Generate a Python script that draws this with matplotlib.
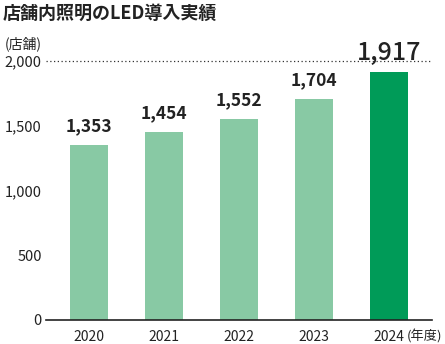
import matplotlib
matplotlib.use("Agg")
import matplotlib.pyplot as plt

plt.rcParams['font.family'] = ['Noto Sans CJK JP', 'DejaVu Sans']

years = ['2020', '2021', '2022', '2023', '2024']
stores = [1353, 1454, 1552, 1704, 1917]
colors = ['#88c9a4', '#88c9a4', '#88c9a4', '#88c9a4', '#009b58']
yticks = [0, 500, 1000, 1500, 2000]

fig = plt.figure(figsize=(4.45, 3.44), dpi=100)
ax = fig.add_axes([0.1034, 0.0698, 0.8674, 0.7529])

x = range(len(years))
ax.bar(x, stores, width=0.507, color=colors, zorder=2)

ax.set_xlim(-0.573, 4.573)
ax.set_ylim(0, 2000)
ax.set_yticks(yticks)
ax.set_yticklabels([f'{v:,}' for v in yticks], fontsize=10.5, color='#222222')
ax.set_xticks(list(x))
ax.set_xticklabels(years, fontsize=10, color='#222222')
ax.tick_params(axis='y', length=0, pad=3)
ax.tick_params(axis='x', length=0, pad=7)

for s in ['top', 'right', 'left']:
    ax.spines[s].set_visible(False)
ax.spines['bottom'].set_color('#222222')
ax.spines['bottom'].set_linewidth(1.2)

ax.axhline(2000, color='#333333', linestyle=(0, (1, 2)), linewidth=0.9, clip_on=False)

for i, v in enumerate(stores):
    if i == len(stores) - 1:
        ax.text(i, v + 45, f'{v:,}', ha='center', va='bottom', fontsize=18,
                color='#222222', fontweight='medium')
    else:
        ax.text(i, v + 75, f'{v:,}', ha='center', va='bottom', fontsize=12.5,
                color='#222222', fontweight='bold')

fig.text(0.005, 0.962, '店舗内照明のLED導入実績', fontsize=13, fontweight='bold',
         color='#222222', va='center', ha='left')
fig.text(0.01, 0.872, '(店舗)', fontsize=10, color='#222222', va='center', ha='left')
fig.text(0.913, 0.022, '(年度)', fontsize=9.5, color='#222222', va='center', ha='left')

fig.savefig('out.png', dpi=100)
